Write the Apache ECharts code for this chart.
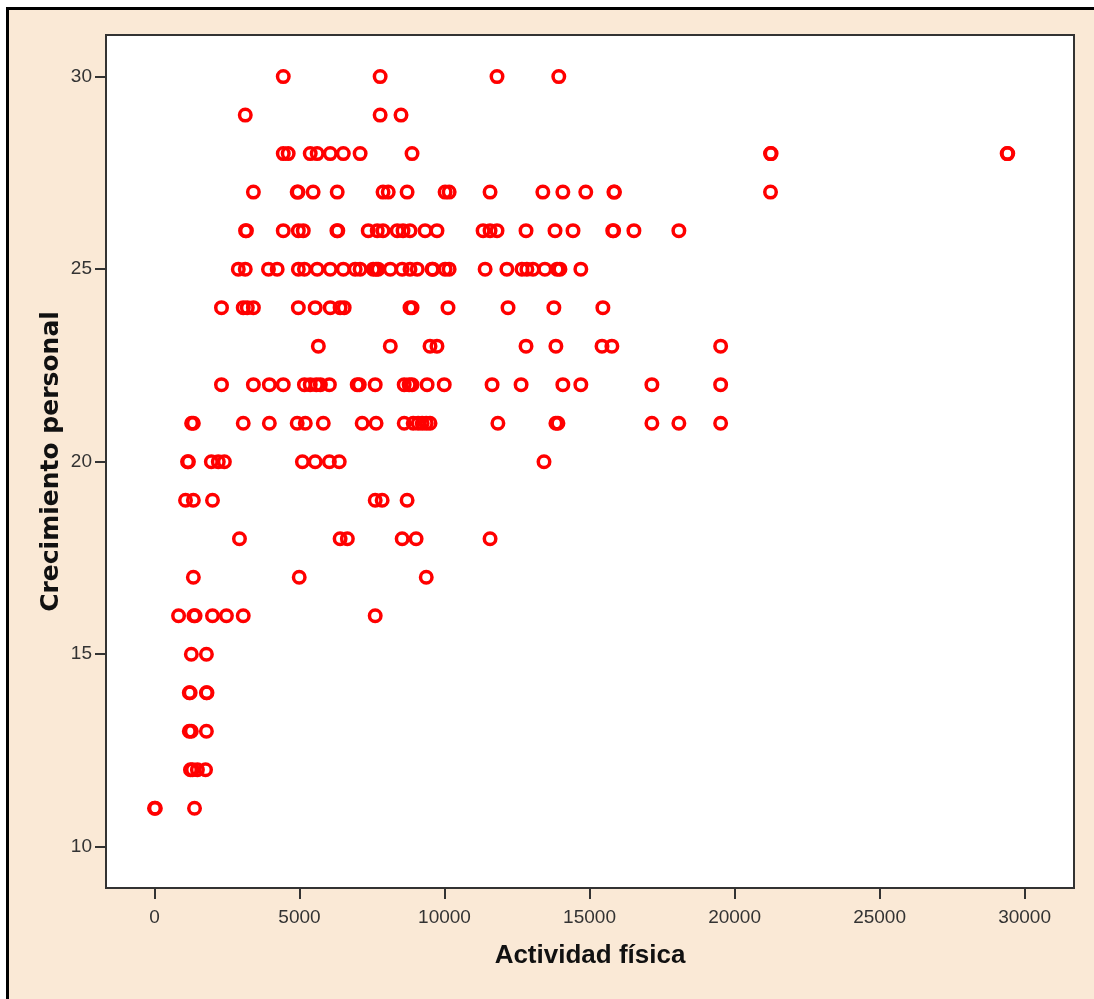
<!DOCTYPE html>
<html>
<head>
<meta charset="utf-8">
<script src="https://cdn.jsdelivr.net/npm/echarts@6/dist/echarts.min.js"></script>
<style>
html,body{margin:0;padding:0;background:#ffffff;width:1094px;height:999px;overflow:hidden;}
#frame{position:absolute;left:6px;top:7px;width:1085px;height:989px;background:#FAE9D6;border-left:3px solid #000;border-top:3px solid #000;}
#chart{position:absolute;left:0;top:0;width:1094px;height:999px;}
</style>
</head>
<body>
<div id="frame"></div>
<div id="chart"></div>
<script>
// Crecimiento personal levels and the Actividad física values read at each level
const fila30 = [4440, 7780, 11810, 13940];
const fila29 = [3130, 7780, 8500];
const fila28 = [4440, 4610, 5370, 5610, 6060, 6510, 7090, 8880, 21240, 21260, 29400, 29420];
const fila27 = [3410, 4920, 4950, 5470, 6300, 7880, 8060, 8710, 10020, 10160, 11570, 13390, 14080, 14870, 15840, 15860, 21240];
const fila26 = [3140, 3170, 4440, 4960, 5130, 6290, 6320, 7370, 7680, 7880, 8370, 8570, 8810, 9330, 9740, 11330, 11570, 11810, 12810, 13810, 14430, 15800, 15830, 16530, 18080];
const fila25 = [2890, 3130, 3930, 4230, 4960, 5170, 5610, 6060, 6510, 6920, 7090, 7540, 7640, 7710, 8130, 8540, 8810, 9060, 9570, 9600, 10020, 10160, 11400, 12150, 12670, 12840, 13050, 13460, 13880, 13980, 14700];
const fila24 = [2310, 3060, 3200, 3410, 4960, 5540, 6060, 6400, 6540, 8810, 8880, 10120, 12190, 13770, 15460];
const fila23 = [5650, 8130, 9500, 9740, 12810, 13840, 15430, 15770, 19520];
const fila22 = [2310, 3410, 3960, 4440, 5170, 5370, 5580, 5720, 6030, 6990, 7060, 7610, 8610, 8780, 8880, 9400, 9990, 11640, 12640, 14080, 14700, 17150, 19520];
const fila21 = [1280, 1340, 3060, 3960, 4920, 5200, 5820, 7160, 7640, 8610, 8920, 9090, 9230, 9370, 9500, 11840, 13840, 13910, 17150, 18080, 19520];
const fila20 = [1140, 1170, 1960, 2200, 2410, 5100, 5540, 6030, 6370, 13430];
const fila19 = [1070, 1340, 2000, 7610, 7850, 8710];
const fila18 = [2930, 6400, 6650, 8540, 9020, 11570];
const fila17 = [1340, 4990, 9370];
const fila16 = [830, 1360, 1400, 2000, 2480, 3060, 7610];
const fila15 = [1270, 1790];
const fila14 = [1200, 1230, 1790, 1810];
const fila13 = [1200, 1270, 1790];
const fila12 = [1240, 1310, 1480, 1760];
const fila11 = [0, 30, 1380];

const niveles = [30, 29, 28, 27, 26, 25, 24, 23, 22, 21, 20, 19, 18, 17, 16, 15, 14, 13, 12, 11];
const filas = [fila30, fila29, fila28, fila27, fila26, fila25, fila24, fila23, fila22, fila21, fila20, fila19, fila18, fila17, fila16, fila15, fila14, fila13, fila12, fila11];

const xTicks = [0, 5000, 10000, 15000, 20000, 25000, 30000];
const yTicks = [10, 15, 20, 25, 30];

const puntos = [];
filas.forEach((fila, i) => fila.forEach(x => puntos.push([x, niveles[i]])));

const axisColor = '#333333';
const chart = echarts.init(document.getElementById('chart'), null, {renderer: 'canvas'});
chart.setOption({
  animation: false,
  backgroundColor: 'transparent',
  grid: {
    left: 106, top: 35, right: 20, bottom: 111,
    show: true, backgroundColor: '#ffffff', borderColor: axisColor, borderWidth: 2
  },
  xAxis: {
    type: 'value',
    min: -1672, max: 31704,
    splitLine: {show: false},
    axisLine: {show: true, onZero: false, lineStyle: {color: axisColor, width: 2}},
    axisTick: {show: true, customValues: xTicks, length: 11, lineStyle: {color: axisColor, width: 2}},
    axisLabel: {customValues: xTicks, margin: 20, fontSize: 19, color: '#333333',
      fontFamily: "'Liberation Sans', Arial, sans-serif", formatter: v => String(v)},
    name: 'Actividad física',
    nameLocation: 'middle',
    nameGap: 55,
    nameMoveOverlap: false,
    nameTextStyle: {fontSize: 26, fontWeight: 'bold', color: '#111111', fontFamily: "'Liberation Sans', Arial, sans-serif"}
  },
  yAxis: {
    type: 'value',
    min: 8.93, max: 31.08,
    splitLine: {show: false},
    axisLine: {show: true, onZero: false, lineStyle: {color: axisColor, width: 2}},
    axisTick: {show: true, customValues: yTicks, length: 11, lineStyle: {color: axisColor, width: 2}},
    axisLabel: {customValues: yTicks, margin: 14, fontSize: 19, color: '#333333',
      fontFamily: "'Liberation Sans', Arial, sans-serif", formatter: v => String(v)},
    name: 'Crecimiento personal',
    nameLocation: 'middle',
    nameGap: 42,
    nameMoveOverlap: false,
    nameTextStyle: {fontSize: 25, fontWeight: 'bold', color: '#111111', fontFamily: "'DejaVu Sans', sans-serif"}
  },
  series: [{
    type: 'scatter',
    data: puntos,
    symbol: 'circle',
    symbolSize: 11.5,
    itemStyle: {color: 'rgba(255,255,255,0)', borderColor: '#ff0000', borderWidth: 3.5, opacity: 1},
    emphasis: {disabled: true}
  }]
});
</script>
</body>
</html>
